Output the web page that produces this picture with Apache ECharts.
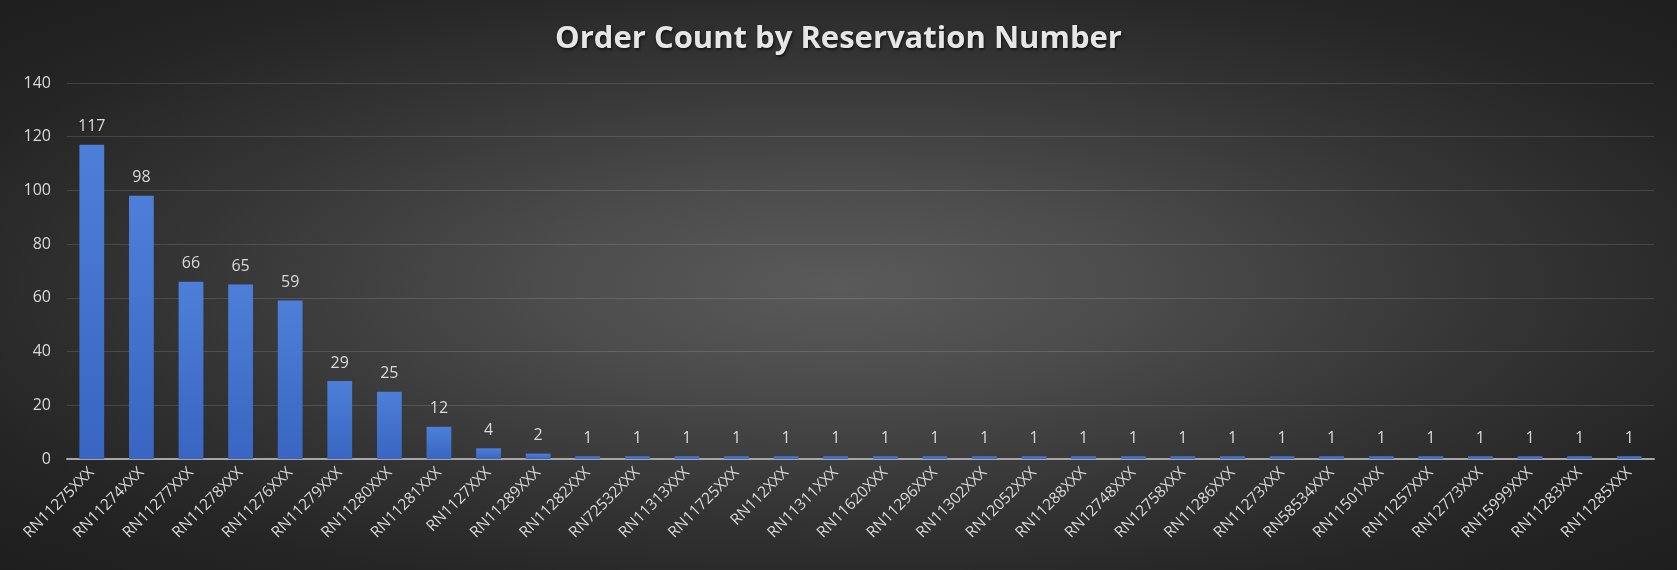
<!DOCTYPE html>
<html>
<head>
<meta charset="utf-8">
<script src="https://cdn.jsdelivr.net/npm/echarts@6/dist/echarts.min.js"></script>
<style>
  html, body {
    margin: 0;
    padding: 0;
  }
  body {
    background: radial-gradient(ellipse at 50% 50%, #5a5a5a 0%, #4c4c4c 25%, #353535 55%, #252525 80%, #1e1e1e 100%);
  }
  .mychart {
    width: 1677px;
    height: 570px;
  }
</style>
</head>
<body>
<div id="mychart" class="mychart"></div>
<script>
const categories = [
  'RN11275XXX', 'RN11274XXX', 'RN11277XXX', 'RN11278XXX', 'RN11276XXX',
  'RN11279XXX', 'RN11280XXX', 'RN11281XXX', 'RN1127XXX', 'RN11289XXX',
  'RN11282XXX', 'RN72532XXX', 'RN11313XXX', 'RN11725XXX', 'RN112XXX',
  'RN11311XXX', 'RN11620XXX', 'RN11296XXX', 'RN11302XXX', 'RN12052XXX',
  'RN11288XXX', 'RN12748XXX', 'RN12758XXX', 'RN11286XXX', 'RN11273XXX',
  'RN58534XXX', 'RN11501XXX', 'RN11257XXX', 'RN12773XXX', 'RN15999XXX',
  'RN11283XXX', 'RN11285XXX'
]
const orderCounts = [
  117, 98, 66, 65, 59, 29, 25, 12, 4, 2,
  1, 1, 1, 1, 1, 1, 1, 1, 1, 1,
  1, 1, 1, 1, 1, 1, 1, 1, 1, 1,
  1, 1
]
const yTicks = { min: 0, max: 140, interval: 20 }

const mychart = echarts.init(document.getElementById('mychart'))
mychart.setOption({
  backgroundColor: 'transparent',
  title: {
    text: 'Order Count by Reservation Number',
    left: 'center',
    top: 19,
    textStyle: {
      color: '#e6e6e6',
      fontFamily: 'Open Sans',
      fontSize: 31,
      fontWeight: 'bold',
      textShadowColor: 'rgba(0,0,0,0.6)',
      textShadowBlur: 3,
      textShadowOffsetX: 1,
      textShadowOffsetY: 2
    }
  },
  grid: { // 绘图区位置
    left: 67,
    right: 23,
    top: 83,
    bottom: 111
  },
  xAxis: {
    type: 'category',
    data: categories,
    axisTick: { show: false },
    axisLine: {
      lineStyle: { color: '#a6a6a6', width: 2 }
    },
    axisLabel: {
      rotate: 45,
      interval: 0,
      margin: 11,
      color: '#d9d9d9',
      fontFamily: 'Open Sans',
      fontSize: 15.5
    }
  },
  yAxis: {
    type: 'value',
    min: yTicks.min,
    max: yTicks.max,
    interval: yTicks.interval,
    axisLine: { show: false },
    axisTick: { show: false },
    axisLabel: {
      color: '#d9d9d9',
      fontFamily: 'Open Sans',
      fontSize: 16,
      margin: 16
    },
    splitLine: {
      lineStyle: { color: 'rgba(255,255,255,0.13)', width: 1 }
    }
  },
  series: [{
    type: 'bar',
    data: orderCounts,
    barWidth: '50%',
    itemStyle: {
      color: new echarts.graphic.LinearGradient(0, 0, 0, 1, [
        { offset: 0, color: '#4d7fd8' },
        { offset: 1, color: '#3866c2' }
      ])
    },
    label: {
      show: true,
      position: 'top',
      distance: 10,
      color: '#d9d9d9',
      fontFamily: 'Open Sans',
      fontSize: 16
    }
  }]
})
</script>
</body>
</html>
